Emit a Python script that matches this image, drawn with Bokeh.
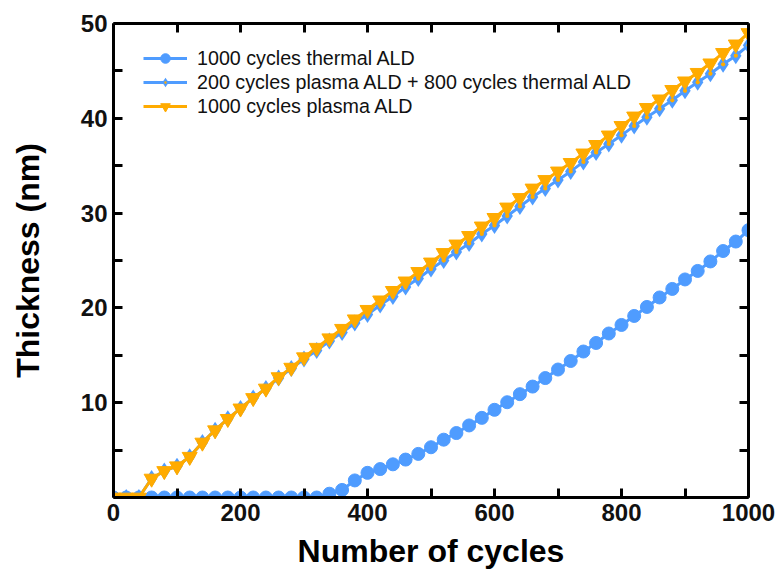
from bokeh.plotting import figure
from bokeh.models import FixedTicker, Range1d, LinearAxis, Legend, LegendItem, ColumnDataSource
from bokeh.embed import file_html
from bokeh.resources import INLINE

# Film thickness (nm) versus number of ALD cycles, sampled every 20 cycles
cycles = list(range(0, 1001, 20))

thermal = [0, 0, 0, 0, 0, 0, 0, 0, 0, 0,
           0, 0, 0, 0, 0, 0, 0, 0.4, 0.8, 1.8,
           2.6, 3.0, 3.5, 4.0, 4.6, 5.3, 6.1, 6.8, 7.6, 8.4,
           9.25, 10.05, 10.9, 11.7, 12.6, 13.5, 14.4, 15.4, 16.3, 17.3,
           18.2, 19.15, 20.1, 21.1, 22.0, 23.0, 23.9, 24.9, 26.0, 27.0,
           28.2]

hybrid = [0, 0, 0, 2.0, 2.8, 3.3, 4.3, 5.8, 7.1, 8.3,
          9.4, 10.5, 11.5, 12.6, 13.6, 14.6, 15.5, 16.5, 17.4, 18.4,
          19.3, 20.3, 21.2, 22.2, 23.1, 24.1, 25.0, 25.9, 26.8, 27.8,
          28.7, 29.7, 30.7, 31.7, 32.6, 33.5, 34.4, 35.4, 36.4, 37.3,
          38.2, 39.2, 40.1, 41.0, 41.9, 42.9, 43.8, 44.7, 45.7, 46.6,
          47.7]

plasma = [0, 0, 0, 2.0, 2.8, 3.3, 4.3, 5.8, 7.1, 8.3,
          9.4, 10.5, 11.5, 12.7, 13.7, 14.8, 15.8, 16.8, 17.8, 18.8,
          19.8, 20.8, 21.8, 22.8, 23.8, 24.8, 25.8, 26.7, 27.6, 28.6,
          29.5, 30.6, 31.6, 32.6, 33.5, 34.4, 35.3, 36.3, 37.2, 38.2,
          39.2, 40.2, 41.1, 42.0, 43.0, 43.9, 44.8, 45.8, 46.9, 47.8,
          49.0]

series_labels = ["1000 cycles thermal ALD",
                 "200 cycles plasma ALD + 800 cycles thermal ALD",
                 "1000 cycles plasma ALD"]

X_MIN, X_MAX = 0, 1000
Y_MIN, Y_MAX = 0, 50
x_ticks = list(range(X_MIN, X_MAX + 1, 100))
x_tick_labels = {t: (str(t) if t % 200 == 0 else "") for t in x_ticks}
y_ticks = list(range(Y_MIN, Y_MAX + 1, 5))
y_tick_labels = {t: (str(t) if (t % 10 == 0 and t > 0) else "") for t in y_ticks}

BLUE = "#4f9cff"
ORANGE = "#ffab00"
FONT = "Liberation Sans"

src = ColumnDataSource(dict(x=cycles, thermal=thermal, hybrid=hybrid, plasma=plasma))

p = figure(width=778, height=580,
           x_range=Range1d(X_MIN, X_MAX), y_range=Range1d(Y_MIN, Y_MAX),
           output_backend="svg", toolbar_location=None,
           min_border_left=113, min_border_right=30,
           min_border_top=23, min_border_bottom=83)
p.xgrid.grid_line_color = None
p.ygrid.grid_line_color = None
p.outline_line_color = None

# four-sided frame with inward ticks; labels only on the left and bottom
right_ax = LinearAxis()
top_ax = LinearAxis()
p.add_layout(right_ax, "right")
p.add_layout(top_ax, "above")
left_ax = p.left[0]
bottom_ax = p.below[0]

for ax in (bottom_ax, top_ax):
    ax.ticker = FixedTicker(ticks=x_ticks)
for ax in (left_ax, right_ax):
    ax.ticker = FixedTicker(ticks=y_ticks)

bottom_ax.major_label_overrides = x_tick_labels
left_ax.major_label_overrides = y_tick_labels
top_ax.major_label_overrides = {t: "" for t in x_ticks}
right_ax.major_label_overrides = {t: "" for t in y_ticks}

for ax in (left_ax, bottom_ax, right_ax, top_ax):
    ax.axis_line_width = 3
    ax.axis_line_color = "black"
    ax.major_tick_in = 9
    ax.major_tick_out = 0
    ax.major_tick_line_width = 3
    ax.major_tick_line_color = "black"
    ax.minor_tick_line_color = None
    ax.major_label_text_font = FONT
    ax.major_label_text_font_style = "bold"
    ax.major_label_text_font_size = "24px"
    ax.major_label_text_color = "#111111"
    ax.major_label_standoff = 6
    ax.axis_label_text_font = FONT
    ax.axis_label_text_font_style = "bold"
    ax.axis_label_text_font_size = "32px"
    ax.axis_label_text_color = "black"

for ax in (right_ax, top_ax):
    ax.major_label_text_font_size = "1px"
    ax.major_label_standoff = 0

left_ax.axis_label = "Thickness (nm)"
left_ax.axis_label_standoff = 32
bottom_ax.axis_label = "Number of cycles"
bottom_ax.axis_label_standoff = 9

# thermal ALD only
l1 = p.line("x", "thermal", source=src, line_color=BLUE, line_width=3)
s1 = p.scatter("x", "thermal", source=src, marker="circle", size=13,
               fill_color=BLUE, line_color=BLUE)

# plasma start followed by thermal growth
l2 = p.line("x", "hybrid", source=src, line_color=BLUE, line_width=3)
s2 = p.scatter("x", "hybrid", source=src, marker="diamond_dot", size=17,
               fill_color=BLUE, line_color=ORANGE, line_width=0.01)

# plasma ALD only
l3 = p.line("x", "plasma", source=src, line_color=ORANGE, line_width=3)
s3 = p.scatter("x", "plasma", source=src, marker="inverted_triangle", size=15,
               fill_color=ORANGE, line_color=ORANGE)

legend = Legend(items=[LegendItem(label=series_labels[0], renderers=[l1, s1]),
                       LegendItem(label=series_labels[1], renderers=[l2, s2]),
                       LegendItem(label=series_labels[2], renderers=[l3, s3])],
                location=(30, 379))
legend.padding = 0
legend.margin = 0
legend.glyph_width = 44
legend.glyph_height = 24
legend.label_height = 24
legend.spacing = 0
legend.label_standoff = 10
legend.label_text_font = FONT
legend.label_text_font_size = "19.7px"
legend.label_text_color = "#111111"
legend.background_fill_alpha = 0
legend.border_line_color = None
p.add_layout(legend)

open("out.html", "w").write(file_html(p, INLINE))
